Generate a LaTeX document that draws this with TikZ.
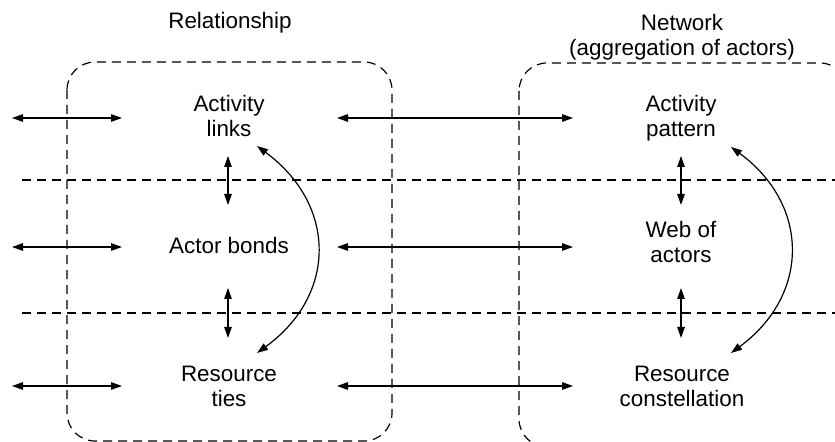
\documentclass[tikz,border=0pt]{standalone}
\usepackage{fontspec}
\setmainfont{Liberation Sans}
\usetikzlibrary{arrows.meta}
\begin{document}
\begin{tikzpicture}[x=1bp,y=-1bp,
  lbl/.style={align=center,font=\fontsize{22.5}{25}\selectfont,inner sep=0pt},
  region/.style={draw,dash pattern=on 9bp off 6bp,rounded corners=28bp,line width=1.2bp},
  layer/.style={draw,dash pattern=on 9bp off 6bp,line width=1.2bp},
  link/.style={{Triangle[length=11bp,width=7.5bp]}-{Triangle[length=11bp,width=7.5bp]},line width=1.2bp},
]
\useasboundingbox (0,0) rectangle (835,442);

% the two dashed regions (the right one runs past the page edge)
\begin{scope}
  \clip (0,0) rectangle (835,442);
  \draw[region] (67,62) rectangle (392,441);
  \draw[region] (519,63) rectangle (848,447);
\end{scope}

% dashed layer separators
\coordinate (s1a) at (22,180);  \coordinate (s1b) at (835,180);
\coordinate (s2a) at (22,313);  \coordinate (s2b) at (835,313);
\draw[layer] (s1a) -- (s1b);
\draw[layer] (s2a) -- (s2b);

% headings
\node[lbl] (rel) at (230,23) {Relationship};
\node[lbl] (net) at (682,37.5) {Network\\(aggregation of actors)};

% layer labels
\node[lbl] (al) at (229,116.3) {Activity\\links};
\node[lbl] (ab) at (229,245.8) {Actor bonds};
\node[lbl] (rt) at (229,386.8) {Resource\\ties};
\node[lbl] (ap) at (681,118.6) {Activity\\pattern};
\node[lbl] (wa) at (681,242.3) {Web of\\actors};
\node[lbl] (rc) at (682,386.8) {Resource\\constellation};

% horizontal links
\foreach \r/\y in {1/118,2/247,3/386}{
  \coordinate (l\r a) at (12,\y);  \coordinate (l\r b) at (122,\y);
  \coordinate (m\r a) at (337,\y); \coordinate (m\r b) at (573,\y);
  \draw[link] (l\r a) -- (l\r b);
  \draw[link] (m\r a) -- (m\r b);
}

% vertical links between layers
\foreach \x/\n in {228/L,681/R}{
  \coordinate (v\n1a) at (\x,156); \coordinate (v\n1b) at (\x,205);
  \coordinate (v\n2a) at (\x,288); \coordinate (v\n2b) at (\x,338);
  \draw[link] (v\n1a) -- (v\n1b);
  \draw[link] (v\n2a) -- (v\n2b);
}

% curved links from activities to resources
\coordinate (cLa) at (257,146); \coordinate (cLb) at (257,353);
\coordinate (cRa) at (731,147); \coordinate (cRb) at (731,353);
\draw[link] (cLa) .. controls (337,205) and (337,295) .. (cLb);
\draw[link] (cRa) .. controls (810,205) and (810,295) .. (cRb);
\end{tikzpicture}
\end{document}
